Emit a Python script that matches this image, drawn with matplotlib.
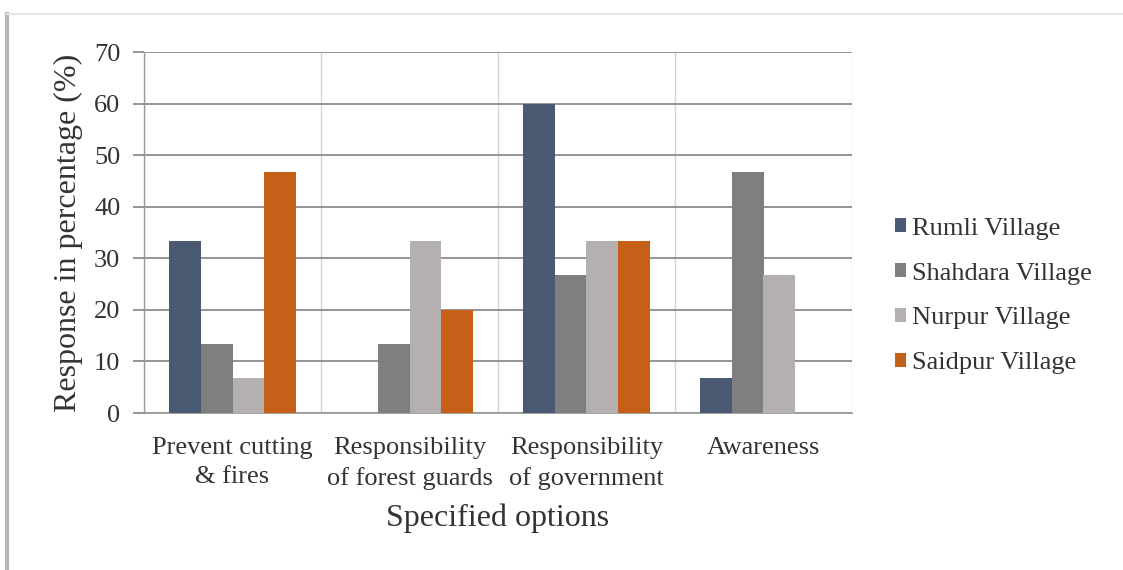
import matplotlib
matplotlib.use("Agg")
import matplotlib.pyplot as plt
from matplotlib.lines import Line2D
from matplotlib.patches import Patch
import numpy as np

categories = ["Prevent cutting\n& fires", "Responsibility\nof forest guards",
              "Responsibility\nof government", "Awareness"]
villages = ["Rumli Village", "Shahdara Village", "Nurpur Village", "Saidpur Village"]
rumli = [33.3, 0.0, 60.0, 6.7]
shahdara = [13.3, 13.3, 26.7, 46.7]
nurpur = [6.7, 33.3, 33.3, 26.7]
saidpur = [46.7, 20.0, 33.3, 0.0]
yticks = [0, 10, 20, 30, 40, 50, 60, 70]

colors = ["#4a5a73", "#7f7f7f", "#b3b0af", "#c65f18"]
series = [rumli, shahdara, nurpur, saidpur]

plt.rcParams["font.family"] = ["Liberation Serif", "DejaVu Serif"]
text_color = "#333333"

fig = plt.figure(figsize=(11.23, 5.70), dpi=100)
ax = fig.add_axes([144 / 1123, 1 - 413 / 570, 708 / 1123, 361 / 570])

# outer chart frame
fig.add_artist(Line2D([7 / 1123, 7 / 1123], [0, 1 - 14 / 570], transform=fig.transFigure,
                      color="#b8b8b8", lw=3.0))
fig.add_artist(Line2D([7 / 1123, 1], [1 - 14 / 570, 1 - 14 / 570], transform=fig.transFigure,
                      color="#e6e6e6", lw=1.5))

x = np.arange(len(categories))
bw = 0.18
offsets = (np.arange(len(series)) - 1.5) * bw
for vals, off, col, name in zip(series, offsets, colors, villages):
    ax.bar(x + off, vals, width=bw, color=col, label=name, zorder=3)

ax.set_xlim(-0.5, len(categories) - 0.5)
ax.set_ylim(0, 70)
ax.set_yticks(yticks)
ax.set_yticklabels([str(v) for v in yticks], fontsize=19, color=text_color)

# horizontal gridlines with outward ticks
ax.yaxis.grid(True, color="#8c8c8c", lw=1.3, zorder=1)
ax.tick_params(axis="y", length=8, width=1.3, color="#8c8c8c", pad=9)

# category separators
ax.set_xticks(np.arange(-0.5, len(categories) + 0.1, 1.0), minor=True)
ax.xaxis.grid(True, which="minor", color="#d4d4d4", lw=1.0, zorder=1)
ax.set_xticks(x)
ax.set_xticklabels(categories, fontsize=19, color=text_color, linespacing=1.45)
ax.tick_params(axis="x", which="both", length=0, pad=17)

for side in ["top", "right"]:
    ax.spines[side].set_visible(False)
ax.spines["left"].set_color("#9a9a9a")
ax.spines["left"].set_linewidth(1.0)
ax.spines["bottom"].set_color("#9a9a9a")
ax.spines["bottom"].set_linewidth(1.3)

ax.set_ylabel("Response in percentage (%)", fontsize=23, color=text_color, labelpad=8)
ax.set_xlabel("Specified options", fontsize=23, color=text_color, labelpad=10)

handles = [Patch(facecolor=c, label=n) for c, n in zip(colors, villages)]
leg = fig.legend(handles=handles, loc="center left", bbox_to_anchor=(884 / 1123, 1 - 296 / 570),
                 frameon=False, fontsize=19, handlelength=0.45, handleheight=0.45,
                 handletextpad=0.23, labelspacing=0.87, borderaxespad=0)
for t in leg.get_texts():
    t.set_color(text_color)

fig.savefig("out.png", dpi=100, facecolor="white")
